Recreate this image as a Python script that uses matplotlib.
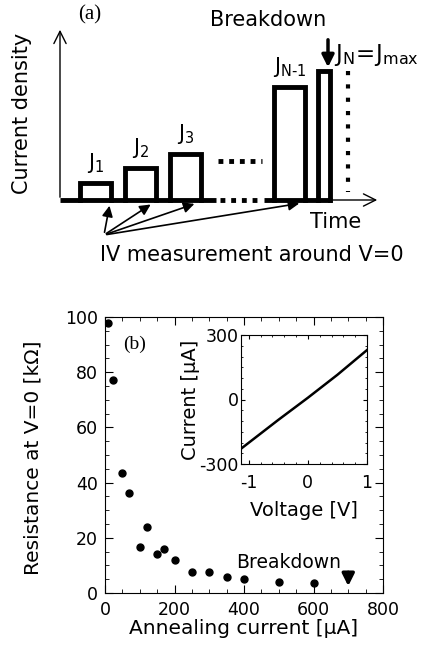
import numpy as np
import matplotlib.pyplot as plt
from matplotlib.ticker import MultipleLocator

plt.rcParams['font.family'] = ['DejaVu Sans']
plt.rcParams['mathtext.fontset'] = 'custom'
plt.rcParams['mathtext.rm'] = 'DejaVu Sans'
plt.rcParams['axes.unicode_minus'] = False

# (b) resistance at V=0 vs annealing current
anneal_current = [10, 22, 50, 70, 100, 120, 150, 170, 200, 250, 300, 350, 400, 500, 600]
resistance = [98, 77, 43.6, 36.2, 16.5, 23.8, 14.2, 15.8, 11.8, 7.7, 7.7, 5.9, 4.9, 4.1, 3.7]
breakdown_current = 700

# inset IV curve
voltage = [-1.13, -0.5, 0.0, 0.5, 1.0]
current = [-229, -95, 8, 115, 230]

# (a) schematic pulses (start, width, height above base), in pixel-ish units
pulse_start = [80, 125, 170, 274, 318]
pulse_width = [31, 31, 31, 31, 12]
pulse_height = [17, 32, 46, 113, 129]
pulse_labels = [r'$\mathregular{J_1}$', r'$\mathregular{J_2}$', r'$\mathregular{J_3}$',
                r'$\mathregular{J_{N\text{-}1}}$']
arrow_targets = [110, 153, 197, 302]

fig = plt.figure(figsize=(4.26, 6.45), dpi=100)

# ---------- panel (a) ----------
axa = fig.add_axes([0, 345 / 645, 1, 300 / 645])
axa.set_xlim(0, 426)
axa.set_ylim(300, 0)
axa.axis('off')
base = 200
fs = 15

# axes arrows
axa.annotate('', xy=(60, 27), xytext=(60, base),
             arrowprops=dict(arrowstyle='->', lw=1.0, mutation_scale=22, color='k'))
axa.annotate('', xy=(380, base), xytext=(330, base),
             arrowprops=dict(arrowstyle='->', lw=1.0, mutation_scale=22, color='k'))

# baseline (thick), dotted gaps
axa.plot([60, 216], [base, base], color='k', lw=3.5, solid_capstyle='butt')
axa.plot([220, 262], [base, base], color='k', lw=3.5, ls=(0, (1, 1.2)))
axa.plot([264, 332], [base, base], color='k', lw=3.5, solid_capstyle='butt')
axa.plot([218, 262], [161, 161], color='k', lw=3.5, ls=(0, (1, 1.2)))

for s, w, h in zip(pulse_start, pulse_width, pulse_height):
    axa.plot([s, s, s + w, s + w], [base, base - h, base - h, base],
             color='k', lw=3.5, solid_joinstyle='miter')
axa.plot([348, 348], [base - 129, base - 8], color='k', lw=3, ls=(0, (1, 2.2)))

for s, w, h, lab in zip(pulse_start, pulse_width, pulse_height, pulse_labels):
    axa.text(s + w / 2, base - h - 8, lab, ha='center', va='bottom', fontsize=fs)

axa.text(334, 55, r'$\mathregular{J_N\!=\!J_{max}}$', ha='left', va='center', fontsize=16.5)
axa.annotate('', xy=(328, 70), xytext=(328, 37),
             arrowprops=dict(arrowstyle='-|>', lw=2.5, mutation_scale=18, color='k'))
axa.text(268, 20, 'Breakdown', ha='center', va='center', fontsize=fs)
axa.text(90, 15, '(a)', ha='center', va='center', fontsize=15, family='Liberation Serif')
axa.text(22, 113, 'Current density', ha='center', va='center', rotation=90, fontsize=fs)
axa.text(336, 222, 'Time', ha='center', va='center', fontsize=fs)
axa.text(252, 255, 'IV measurement around V=0', ha='center', va='center', fontsize=fs)

for tx in arrow_targets:
    axa.annotate('', xy=(tx, 203), xytext=(104, 235),
                 arrowprops=dict(arrowstyle='-|>', lw=1.2, mutation_scale=16, color='k'))

# ---------- panel (b) ----------
axb = fig.add_axes([105 / 426, 1 - 593 / 645, 278 / 426, 276 / 645])
axb.plot(anneal_current, resistance, 'o', color='k', ms=5)
axb.set_xlim(0, 800)
axb.set_ylim(0, 100)
axb.xaxis.set_major_locator(MultipleLocator(200))
axb.xaxis.set_minor_locator(MultipleLocator(50))
axb.yaxis.set_major_locator(MultipleLocator(20))
axb.yaxis.set_minor_locator(MultipleLocator(5))
axb.tick_params(which='both', direction='in', top=True, right=True, labelsize=12.5)
axb.tick_params(axis='y', pad=5)
axb.tick_params(axis='x', pad=6)
axb.tick_params(which='major', length=6)
axb.tick_params(which='minor', length=3)
axb.set_xlabel('Annealing current [μA]', fontsize=14.5)
axb.xaxis.set_label_coords(0.5, -0.095)
axb.set_ylabel('Resistance at V=0 [kΩ]', fontsize=14.5)
axb.yaxis.set_label_coords(-0.225, 0.49)
axb.text(0.065, 0.9, '(b)', transform=axb.transAxes, fontsize=14,
         family='Liberation Serif', va='center')
axb.text(680, 11, 'Breakdown', ha='right', va='center', fontsize=13.5)
axb.annotate('', xy=(breakdown_current, 1.5), xytext=(breakdown_current, 8.5),
             arrowprops=dict(arrowstyle='-|>', lw=2.5, mutation_scale=18, color='k'))

axi = fig.add_axes([241 / 426, 1 - 464 / 645, 126 / 426, 129 / 645])
axi.plot(voltage, current, color='k', lw=1.8)
axi.set_xlim(-1.13, 1.0)
axi.set_ylim(-300, 300)
axi.set_xticks([-1, 0, 1])
axi.set_yticks([-300, 0, 300])
axi.xaxis.set_minor_locator(MultipleLocator(0.2))
axi.yaxis.set_minor_locator(MultipleLocator(50))
axi.tick_params(which='both', direction='in', top=True, right=True, labelsize=12.5)
axi.tick_params(axis='y', pad=1.5)
axi.tick_params(axis='x', pad=7)
axi.tick_params(which='major', length=3)
axi.tick_params(which='minor', length=1.5)
axi.set_xlabel('Voltage [V]', fontsize=14, labelpad=7)
axi.set_ylabel('Current [μA]', fontsize=14, labelpad=0)

fig.savefig('out.png', dpi=100)
